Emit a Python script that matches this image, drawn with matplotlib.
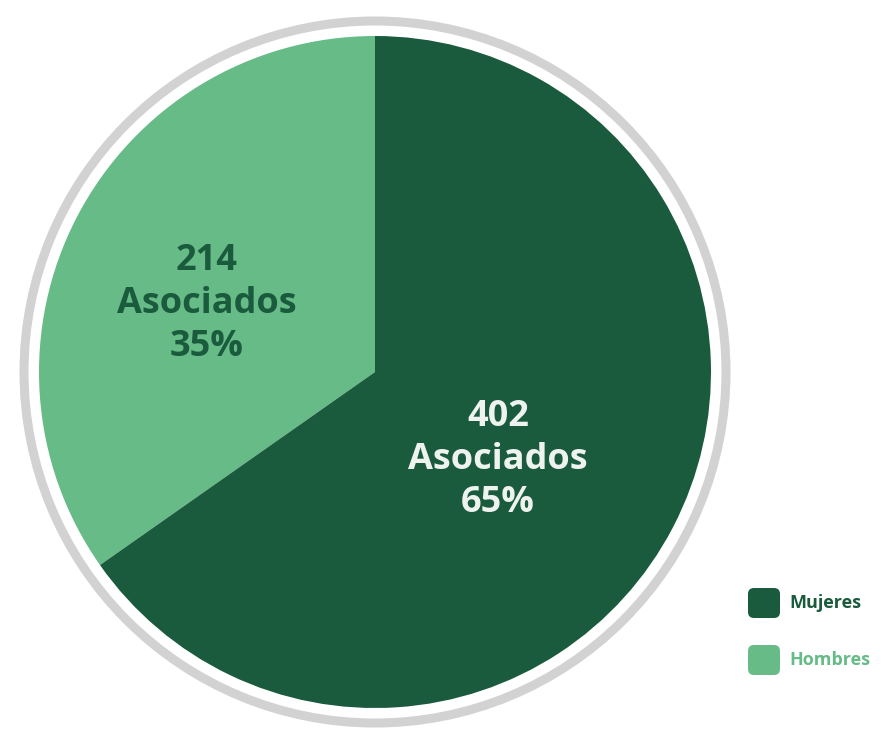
import matplotlib
matplotlib.use("Agg")
import matplotlib.pyplot as plt
from matplotlib.patches import Circle, FancyBboxPatch

categories = ["Hombres", "Mujeres"]
asociados = [214, 402]
porcentajes = [35, 65]
colors = ["#66bb87", "#1a5a3d"]
text_colors = ["#1a5a3d", "#eef3ef"]

W, H = 884, 732
fig = plt.figure(figsize=(W / 100, H / 100), dpi=100)
ax = fig.add_axes([0, 0, 1, 1])

cx, cy, r = 375, H - 372, 336
ax.pie(asociados, colors=colors, startangle=90, counterclock=True,
       center=(cx, cy), radius=r, frame=True,
       wedgeprops=dict(linewidth=0))
ax.set_xlim(0, W)
ax.set_ylim(0, H)
ax.axis("off")

# outer grey ring
ax.add_patch(Circle((cx, cy), 351, fill=False, edgecolor="#d2d2d2", linewidth=6.5))

font = "Open Sans"
label_pos = [(207, H - 304), (498, H - 460)]
for (x, y), n, p, tc in zip(label_pos, asociados, porcentajes, text_colors):
    ax.text(x, y, f"{n}\nAsociados\n{p}%", ha="center", va="center",
            fontsize=26, fontweight="bold", color=tc, family=font,
            linespacing=1.27)

# legend
legend_order = ["Mujeres", "Hombres"]
for i, name in enumerate(legend_order):
    c = colors[categories.index(name)]
    y = H - 603 - i * 57
    ax.add_patch(FancyBboxPatch((750, y - 13), 28, 26,
                                boxstyle="round,pad=2,rounding_size=6",
                                facecolor=c, edgecolor="none"))
    ax.text(789, y, name, ha="left", va="center", fontsize=13,
            fontweight="bold", color=c, family=font)

fig.savefig("out.png", dpi=100)
